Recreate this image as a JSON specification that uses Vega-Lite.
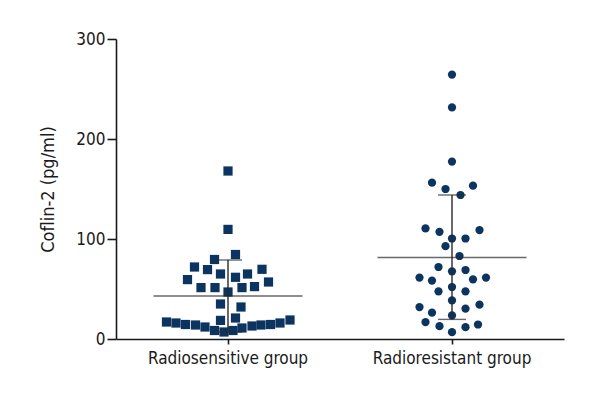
{
  "$schema": "https://vega.github.io/schema/vega-lite/v6.json",
  "width": 448,
  "height": 300,
  "autosize": {"type": "none"},
  "padding": {"left": 116, "top": 39, "right": 36, "bottom": 61},
  "background": "white",
  "config": {
    "view": {"stroke": null},
    "font": "Liberation Sans Narrow, DejaVu Sans Condensed, sans-serif",
    "axis": {"domainColor": "#1a1a1a", "tickColor": "#1a1a1a", "domainWidth": 1.6, "tickWidth": 1.6, "grid": false, "labelColor": "#1a1a1a", "titleColor": "#1a1a1a", "labelFont": "Liberation Sans Narrow, DejaVu Sans Condensed, sans-serif", "titleFont": "Liberation Sans Narrow, DejaVu Sans Condensed, sans-serif"}
  },
  "datasets": {
    "points": [
      {"group": "Radiosensitive group", "slot": 0, "value": 168},
      {"group": "Radiosensitive group", "slot": 0, "value": 109.6},
      {"group": "Radiosensitive group", "slot": 0.75, "value": 84.5},
      {"group": "Radiosensitive group", "slot": -1.35, "value": 79.5},
      {"group": "Radiosensitive group", "slot": -3.35, "value": 72},
      {"group": "Radiosensitive group", "slot": -2.05, "value": 69.4},
      {"group": "Radiosensitive group", "slot": 3.4, "value": 69.7},
      {"group": "Radiosensitive group", "slot": -0.75, "value": 65},
      {"group": "Radiosensitive group", "slot": 1.95, "value": 65},
      {"group": "Radiosensitive group", "slot": 0.75, "value": 61.7},
      {"group": "Radiosensitive group", "slot": -4.05, "value": 59.4},
      {"group": "Radiosensitive group", "slot": 4.05, "value": 57},
      {"group": "Radiosensitive group", "slot": -2.7, "value": 51.4},
      {"group": "Radiosensitive group", "slot": -1.3, "value": 51.4},
      {"group": "Radiosensitive group", "slot": 1.4, "value": 51.4},
      {"group": "Radiosensitive group", "slot": 2.65, "value": 52.4},
      {"group": "Radiosensitive group", "slot": 0, "value": 47},
      {"group": "Radiosensitive group", "slot": -0.75, "value": 35},
      {"group": "Radiosensitive group", "slot": 1.3, "value": 32},
      {"group": "Radiosensitive group", "slot": -0.75, "value": 18.6},
      {"group": "Radiosensitive group", "slot": 0.75, "value": 21},
      {"group": "Radiosensitive group", "slot": -6.15, "value": 17},
      {"group": "Radiosensitive group", "slot": -5.2, "value": 16},
      {"group": "Radiosensitive group", "slot": -4.25, "value": 14.5},
      {"group": "Radiosensitive group", "slot": -3.25, "value": 14},
      {"group": "Radiosensitive group", "slot": -2.3, "value": 12},
      {"group": "Radiosensitive group", "slot": -1.35, "value": 8.5},
      {"group": "Radiosensitive group", "slot": -0.4, "value": 7},
      {"group": "Radiosensitive group", "slot": 0.5, "value": 8.5},
      {"group": "Radiosensitive group", "slot": 1.4, "value": 11},
      {"group": "Radiosensitive group", "slot": 2.4, "value": 13},
      {"group": "Radiosensitive group", "slot": 3.3, "value": 14},
      {"group": "Radiosensitive group", "slot": 4.25, "value": 14.5},
      {"group": "Radiosensitive group", "slot": 5.2, "value": 16},
      {"group": "Radiosensitive group", "slot": 6.2, "value": 19},
      {"group": "Radioresistant group", "slot": 0, "value": 264.4},
      {"group": "Radioresistant group", "slot": 0, "value": 231.6},
      {"group": "Radioresistant group", "slot": 0, "value": 177.4},
      {"group": "Radioresistant group", "slot": -2, "value": 156.3},
      {"group": "Radioresistant group", "slot": -0.65, "value": 150},
      {"group": "Radioresistant group", "slot": 2.1, "value": 153.3},
      {"group": "Radioresistant group", "slot": 0.85, "value": 144},
      {"group": "Radioresistant group", "slot": -2.65, "value": 110.6},
      {"group": "Radioresistant group", "slot": -1.25, "value": 107.2},
      {"group": "Radioresistant group", "slot": 0, "value": 100.5},
      {"group": "Radioresistant group", "slot": 1.35, "value": 100.5},
      {"group": "Radioresistant group", "slot": 2.75, "value": 108.9},
      {"group": "Radioresistant group", "slot": -0.65, "value": 92.8},
      {"group": "Radioresistant group", "slot": 0.75, "value": 83},
      {"group": "Radioresistant group", "slot": -1.35, "value": 72},
      {"group": "Radioresistant group", "slot": 0, "value": 67.7},
      {"group": "Radioresistant group", "slot": 1.35, "value": 69},
      {"group": "Radioresistant group", "slot": -3.25, "value": 61.4},
      {"group": "Radioresistant group", "slot": -2, "value": 58.4},
      {"group": "Radioresistant group", "slot": 2.1, "value": 59.7},
      {"group": "Radioresistant group", "slot": 3.4, "value": 61.4},
      {"group": "Radioresistant group", "slot": -1.35, "value": 47.7},
      {"group": "Radioresistant group", "slot": 0, "value": 52},
      {"group": "Radioresistant group", "slot": 1.35, "value": 47.7},
      {"group": "Radioresistant group", "slot": 0, "value": 38.6},
      {"group": "Radioresistant group", "slot": -3.25, "value": 31.9},
      {"group": "Radioresistant group", "slot": -2, "value": 26.3},
      {"group": "Radioresistant group", "slot": 1.35, "value": 30.3},
      {"group": "Radioresistant group", "slot": 2.75, "value": 34.3},
      {"group": "Radioresistant group", "slot": 0, "value": 23.6},
      {"group": "Radioresistant group", "slot": -2.65, "value": 16.9},
      {"group": "Radioresistant group", "slot": -1.25, "value": 12.8},
      {"group": "Radioresistant group", "slot": 1.35, "value": 11.8},
      {"group": "Radioresistant group", "slot": 2.6, "value": 14.5},
      {"group": "Radioresistant group", "slot": 0, "value": 6.8}
    ],
    "summary": [
      {"group": "Radiosensitive group", "mean": 43, "lo": 7, "hi": 79},
      {"group": "Radioresistant group", "mean": 81.5, "lo": 19.6, "hi": 144}
    ]
  },
  "encoding": {
    "x": {
      "field": "group", "type": "nominal", "sort": ["Radiosensitive group", "Radioresistant group"],
      "scale": {"paddingInner": 0, "paddingOuter": 0},
      "axis": {"title": null, "labelAngle": 0, "labelFontSize": 17, "tickSize": 5, "labelPadding": 6}
    }
  },
  "layer": [
    {
      "data": {"name": "points"},
      "mark": {"type": "point", "filled": true, "opacity": 1, "color": "#0c3461"},
      "encoding": {
        "xOffset": {"field": "slot", "type": "quantitative", "scale": {"domain": [-11.2, 11.2]}},
        "y": {
          "field": "value", "type": "quantitative",
          "scale": {"domain": [0, 300], "nice": false},
          "axis": {"values": [0, 100, 200, 300], "title": "Coflin-2 (pg/ml)", "titleFontWeight": "normal", "titleFontSize": 18, "titlePadding": 18, "labelFontSize": 17, "tickSize": 9, "labelPadding": 2}
        },
        "shape": {"field": "group", "type": "nominal", "scale": {"domain": ["Radiosensitive group", "Radioresistant group"], "range": ["square", "circle"]}, "legend": null},
        "size": {"field": "group", "type": "nominal", "scale": {"domain": ["Radiosensitive group", "Radioresistant group"], "range": [85, 68]}, "legend": null}
      }
    },
    {
      "data": {"name": "summary"},
      "mark": {"type": "rule", "color": "#2a2a2a", "strokeWidth": 1.4},
      "encoding": {"y": {"field": "lo", "type": "quantitative"}, "y2": {"field": "hi"}}
    },
    {
      "data": {"name": "summary"},
      "mark": {"type": "tick", "color": "#2a2a2a", "thickness": 1.4, "size": 149, "orient": "horizontal"},
      "encoding": {"y": {"field": "mean", "type": "quantitative"}}
    },
    {
      "data": {"name": "summary"},
      "mark": {"type": "tick", "color": "#2a2a2a", "thickness": 1.4, "size": 28, "orient": "horizontal"},
      "encoding": {"y": {"field": "hi", "type": "quantitative"}}
    },
    {
      "data": {"name": "summary"},
      "mark": {"type": "tick", "color": "#2a2a2a", "thickness": 1.4, "size": 28, "orient": "horizontal"},
      "encoding": {"y": {"field": "lo", "type": "quantitative"}}
    }
  ]
}
